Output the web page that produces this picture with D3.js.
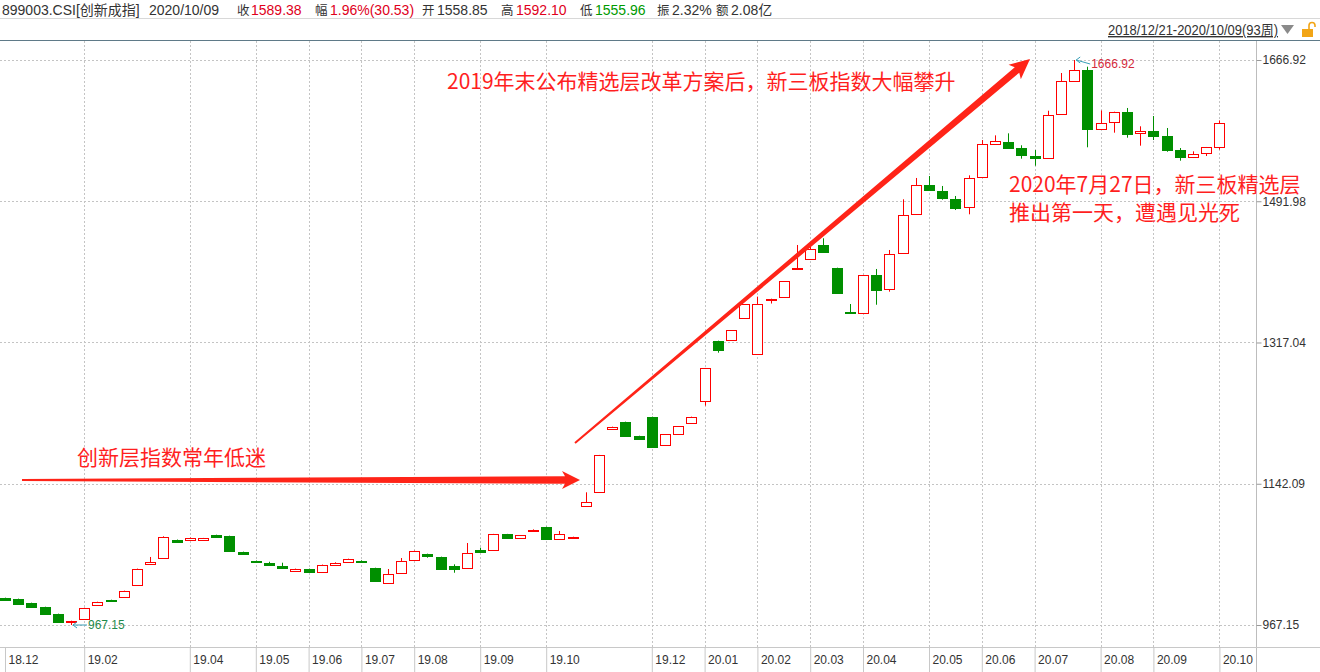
<!DOCTYPE html>
<html><head><meta charset="utf-8">
<script src="https://cdn.jsdelivr.net/npm/d3@7"></script>
<style>body{margin:0;background:#fff;overflow:hidden}svg{display:block}</style>
</head><body><svg id="c" width="1320" height="672"></svg>
<script>
// ---- data ----
const dates = ["2018-12-21","2018-12-28","2019-01-04","2019-01-11","2019-01-18","2019-01-25","2019-02-01","2019-02-15","2019-02-22","2019-03-01","2019-03-08","2019-03-15","2019-03-22","2019-03-29","2019-04-04","2019-04-12","2019-04-19","2019-04-26","2019-04-30","2019-05-10","2019-05-17","2019-05-24","2019-05-31","2019-06-06","2019-06-14","2019-06-21","2019-06-28","2019-07-05","2019-07-12","2019-07-19","2019-07-26","2019-08-02","2019-08-09","2019-08-16","2019-08-23","2019-08-30","2019-09-06","2019-09-12","2019-09-20","2019-09-27","2019-09-30","2019-10-11","2019-10-18","2019-10-25","2019-11-01","2019-11-08","2019-11-15","2019-11-22","2019-11-29","2019-12-06","2019-12-13","2019-12-20","2019-12-27","2020-01-03","2020-01-10","2020-01-17","2020-01-23","2020-02-07","2020-02-14","2020-02-21","2020-02-28","2020-03-06","2020-03-13","2020-03-20","2020-03-27","2020-04-03","2020-04-10","2020-04-17","2020-04-24","2020-04-30","2020-05-08","2020-05-15","2020-05-22","2020-05-29","2020-06-05","2020-06-12","2020-06-19","2020-06-24","2020-07-03","2020-07-10","2020-07-17","2020-07-24","2020-07-31","2020-08-07","2020-08-14","2020-08-21","2020-08-28","2020-09-04","2020-09-11","2020-09-18","2020-09-25","2020-09-30","2020-10-09"];
const opens = [1000.6,999.4,994.4,989.4,980.8,971.2,974.9,992.3,998.1,1002.2,1017.1,1042.7,1050.1,1072.4,1072.4,1072.0,1078.6,1077.4,1057.6,1046.4,1044.3,1040.2,1034.4,1036.5,1032.4,1041.8,1045.5,1046.8,1037.7,1018.8,1031.2,1047.3,1055.1,1051.4,1040.6,1038.1,1060.4,1059.7,1079.5,1075.3,1083.9,1088.5,1073.3,1075.3,1114.9,1131.3,1210.3,1218.6,1201.2,1224.8,1189.7,1203.3,1216.9,1244.2,1318.9,1319.7,1347.0,1302.4,1370.0,1373.8,1407.7,1420.8,1437.4,1409.3,1354.8,1353.9,1400.3,1382.9,1427.5,1475.8,1512.1,1504.3,1494.4,1484.5,1522.0,1562.5,1565.0,1557.9,1547.6,1545.2,1599.6,1641.3,1654.5,1581.8,1589.7,1602.5,1576.1,1579.0,1572.8,1555.4,1547.1,1551.4,1558.85];
const highs = [1001.0,999.8,994.8,989.8,981.2,972.5,988.6,996.0,998.5,1009.7,1037.0,1051.4,1077.0,1073.0,1075.5,1075.0,1079.0,1077.8,1058.0,1047.0,1045.5,1044.3,1037.0,1037.0,1042.0,1044.8,1049.3,1047.3,1038.1,1036.5,1050.1,1059.2,1055.5,1051.8,1042.3,1068.7,1062.9,1080.0,1080.0,1078.6,1085.6,1088.9,1083.6,1076.5,1131.5,1177.8,1212.8,1219.0,1201.6,1225.2,1203.7,1213.6,1225.2,1285.5,1319.3,1332.5,1364.5,1373.8,1371.3,1393.2,1437.8,1436.0,1446.1,1409.7,1364.7,1400.7,1408.1,1431.6,1494.4,1520.8,1523.2,1510.9,1498.5,1524.1,1567.8,1573.6,1576.1,1561.3,1555.4,1604.1,1650.8,1666.92,1658.6,1604.4,1602.9,1607.5,1584.8,1597.5,1582.7,1557.9,1553.8,1559.2,1592.10];
const lows = [997.8,993.0,989.3,980.6,970.6,967.15,974.5,991.9,996.5,1001.8,1016.6,1042.3,1049.5,1069.0,1072.0,1071.5,1076.0,1058.8,1055.0,1045.2,1041.5,1037.3,1034.0,1032.4,1032.0,1041.4,1045.1,1045.0,1021.6,1018.4,1030.8,1046.9,1050.5,1036.5,1031.9,1037.7,1057.5,1059.3,1074.9,1073.7,1083.5,1073.3,1072.9,1074.9,1114.5,1130.9,1209.0,1201.2,1197.5,1187.6,1189.3,1202.9,1216.5,1238.8,1304.4,1319.3,1346.6,1302.0,1365.3,1373.4,1407.3,1420.4,1429.1,1378.3,1353.5,1353.5,1363.8,1380.0,1427.1,1475.4,1504.9,1493.9,1481.1,1475.8,1521.6,1562.1,1556.7,1544.7,1536.0,1544.8,1599.2,1639.7,1558.8,1581.4,1576.9,1570.7,1560.8,1567.8,1553.3,1542.2,1545.5,1548.0,1555.96];
const closes = [998.1,993.5,989.8,981.1,971.2,972.1,988.2,995.6,996.9,1009.3,1036.5,1045.2,1076.1,1069.9,1074.9,1074.5,1076.5,1059.2,1055.5,1045.5,1041.8,1037.7,1036.5,1032.8,1041.5,1044.3,1048.9,1045.5,1022.0,1030.3,1046.4,1058.8,1052.6,1036.9,1036.9,1055.9,1057.9,1079.5,1075.3,1078.2,1085.2,1073.7,1079.5,1076.1,1119.1,1177.3,1212.4,1201.6,1197.9,1188.0,1203.3,1213.2,1224.8,1285.1,1308.1,1332.1,1364.1,1364.3,1370.9,1392.8,1408.9,1432.8,1429.5,1378.7,1353.9,1400.3,1382.4,1426.3,1474.6,1511.7,1505.3,1496.4,1484.2,1520.4,1562.5,1566.9,1558.3,1548.9,1545.2,1598.4,1640.5,1654.5,1581.4,1588.9,1602.5,1575.6,1579.0,1573.2,1555.8,1547.1,1550.1,1558.85,1589.38];
const yTicks = [967.15, 1142.09, 1317.04, 1491.98, 1666.92];
const monthLabels = ["18.12","19.02","19.04","19.05","19.06","19.07","19.08","19.09","19.10","19.12","20.01","20.02","20.03","20.04","20.05","20.06","20.07","20.08","20.09","20.10"];
const headerParts = [
  ["899003.CSI[创新成指]", 2, "#333", 14], ["2020/10/09", 149, "#333", 14],
  ["收", 237, "#333", 12.5], ["1589.38", 251, "#e0001b", 14],
  ["幅", 315, "#333", 12.5], ["1.96%(30.53)", 330, "#e0001b", 14],
  ["开", 422, "#333", 12.5], ["1558.85", 437, "#333", 14],
  ["高", 501, "#333", 12.5], ["1592.10", 516, "#e0001b", 14],
  ["低", 580, "#333", 12.5], ["1555.96", 595, "#009a00", 14],
  ["振", 657, "#333", 12.5], ["2.32%", 672, "#333", 14],
  ["额", 716, "#333", 12.5], ["2.08亿", 731, "#333", 14]
];
const rangeText = "2018/12/21-2020/10/09(93周)";
const notes = [
  ["2019年末公布精选层改革方案后，新三板指数大幅攀升", 447, 80],
  ["创新层指数常年低迷", 77, 456],
  ["2020年7月27日，新三板精选层", 1009, 183],
  ["推出第一天，遭遇见光死", 1009, 211]
];

// ---- layout ----
const RED = "#f00", GREEN = "#008f00";
const plotTop = 40, plotBottom = 647, axisX = 1256;
const svg = d3.select("#c");
svg.append("rect").attr("width",1320).attr("height",672).attr("fill","#fff");

const x = d3.scalePoint().domain(dates).range([5, 1219.4]);
const y = d3.scaleLinear().domain([967.15, 1666.92]).range([625, 60]);

const FONT = "'Liberation Sans', 'Noto Sans CJK SC', sans-serif";

// header
svg.append("line").attr("x1",0).attr("x2",1320).attr("y1",18.5).attr("y2",18.5).attr("stroke","#d8d8d8");
svg.append("g").selectAll("text").data(headerParts).join("text")
  .attr("x", d=>d[1]).attr("y", 15).attr("fill", d=>d[2])
  .attr("font-family", FONT).attr("font-size", d=>d[3]).text(d=>d[0]);
svg.append("text").attr("x",1108).attr("y",35).attr("font-family",FONT).attr("font-size",14)
  .attr("textLength",170).attr("lengthAdjust","spacingAndGlyphs")
  .attr("fill","#333").attr("text-decoration","underline").text(rangeText);
svg.append("path").attr("d","M1281,25 L1294,25 L1287.5,34 Z").attr("fill","#8a8a8a");
// lock icon
svg.append("rect").attr("x",1302).attr("y",29).attr("width",11).attr("height",8).attr("fill","#f2a516");
svg.append("path").attr("d","M1309,29 L1309,25.5 A3,3 0 0 1 1315,25.5 L1315,27").attr("fill","none").attr("stroke","#f2a516").attr("stroke-width",1.6);

svg.append("line").attr("x1",0).attr("x2",1320).attr("y1",40.5).attr("y2",40.5).attr("stroke","#5f7a88");

// grid
const tickDates = monthLabels.map(m => dates.find(d => d.slice(2,4)+"."+d.slice(5,7) === m));
const grid = svg.append("g").attr("stroke","#c4c4c4").attr("stroke-dasharray","2,2");
grid.selectAll(".h").data(yTicks).join("line")
  .attr("x1",0).attr("x2",axisX).attr("y1",d=>Math.round(y(d))+0.5).attr("y2",d=>Math.round(y(d))+0.5);
grid.selectAll(".v").data(tickDates.slice(1)).join("line")
  .attr("x1",d=>Math.round(x(d))+0.5).attr("x2",d=>Math.round(x(d))+0.5).attr("y1",41).attr("y2",plotBottom);

// y axis
svg.append("line").attr("x1",axisX+0.5).attr("x2",axisX+0.5).attr("y1",41).attr("y2",672).attr("stroke","#bdbdbd");
const ya = svg.append("g").attr("transform",`translate(${axisX+0.5},0)`)
  .call(d3.axisRight(y).tickValues(yTicks).tickFormat(d3.format(".2f")).tickSizeInner(5).tickSizeOuter(0).tickPadding(1));
ya.select(".domain").remove();
ya.selectAll(".tick line").attr("stroke","#999");
ya.selectAll(".tick text").attr("font-family",FONT).attr("font-size",12).attr("fill","#333");

// x axis
svg.append("line").attr("x1",0).attr("x2",1320).attr("y1",plotBottom+0.5).attr("y2",plotBottom+0.5).attr("stroke","#c8c8c8");
const xa = svg.append("g").attr("transform",`translate(0,${plotBottom})`)
  .call(d3.axisBottom(x).tickValues(tickDates).tickFormat((d,i)=>monthLabels[i]).tickSizeInner(25).tickSizeOuter(0));
xa.select(".domain").remove();
xa.selectAll(".tick line").attr("stroke","#c8c8c8");
xa.selectAll(".tick text").attr("font-family",FONT).attr("font-size",12).attr("fill","#333")
  .attr("text-anchor","start").attr("x",3).attr("y",8).attr("dy","0.71em");

// candles
const data = dates.map((d,i)=>({d, o:opens[i], h:highs[i], l:lows[i], c:closes[i]}));
const cg = svg.append("g");
const HW = 5;
data.forEach(k=>{
  const cx = Math.round(x(k.d)) + 0.5;
  const up = k.c >= k.o;
  const col = up ? RED : GREEN;
  const yTop = y(Math.max(k.o,k.c)), yBot = y(Math.min(k.o,k.c));
  const bt = Math.round(yTop)+0.5, bb = Math.max(Math.round(yBot)+0.5, bt+1);
  cg.append("line").attr("x1",cx).attr("x2",cx).attr("y1",y(k.h)).attr("y2",bt).attr("stroke",col);
  cg.append("line").attr("x1",cx).attr("x2",cx).attr("y1",bb).attr("y2",y(k.l)).attr("stroke",col);
  cg.append("rect").attr("x",cx-HW).attr("y",bt).attr("width",HW*2).attr("height",bb-bt)
    .attr("fill", up ? "#fff" : GREEN).attr("stroke",col).attr("stroke-width",1);
});

// max / min markers
const iMax = d3.maxIndex(highs), iMin = d3.minIndex(lows);
const mk = svg.append("g");
function marker(i, val, dy, color){
  const px = x(dates[i]) + 2, py = y(val);
  mk.append("path").attr("d",`M${px},${py} L${px+14},${py+dy}`).attr("stroke","#3aa0b8").attr("fill","none");
  mk.append("path").attr("d",`M${px+4},${py-3} L${px},${py} L${px+4},${py+3}`).attr("stroke","#3aa0b8").attr("fill","none");
  mk.append("text").attr("x",px+15).attr("y",py+dy).attr("dy","0.35em").attr("font-family",FONT)
    .attr("font-size",12).attr("fill",color).text(d3.format(".2f")(val));
}
marker(iMax, highs[iMax], 4, "#d42a3c");
marker(iMin, lows[iMin], 0, "#1f8a4c");

// annotations
function arrow(x1,y1,x2,y2,w0,w1,hl,hw){
  const dx=x2-x1, dy=y2-y1, L=Math.hypot(dx,dy), ux=dx/L, uy=dy/L, px=-uy, py=ux;
  const bx=x2-ux*hl, by=y2-uy*hl;
  const pts=[[x1+px*w0/2,y1+py*w0/2],[bx+px*w1/2,by+py*w1/2],[bx-ux*3+px*hw/2,by-uy*3+py*hw/2],[x2,y2],
    [bx-ux*3-px*hw/2,by-uy*3-py*hw/2],[bx-px*w1/2,by-py*w1/2],[x1-px*w0/2,y1-py*w0/2]];
  svg.append("path").attr("d","M"+pts.map(p=>p.join(",")).join("L")+"Z").attr("fill","#ff2418");
}
arrow(22,480,580,480,2,7.5,15,18);
arrow(575,443,1030,59,2,7,17,19);

svg.append("g").selectAll("text").data(notes).join("text")
  .attr("x",d=>d[1]).attr("y",d=>d[2]).attr("dominant-baseline","central")
  .attr("font-family","'Noto Sans CJK SC', sans-serif").attr("font-size",21).attr("fill","#ff1f1f")
  .text(d=>d[0]);
</script></body></html>
